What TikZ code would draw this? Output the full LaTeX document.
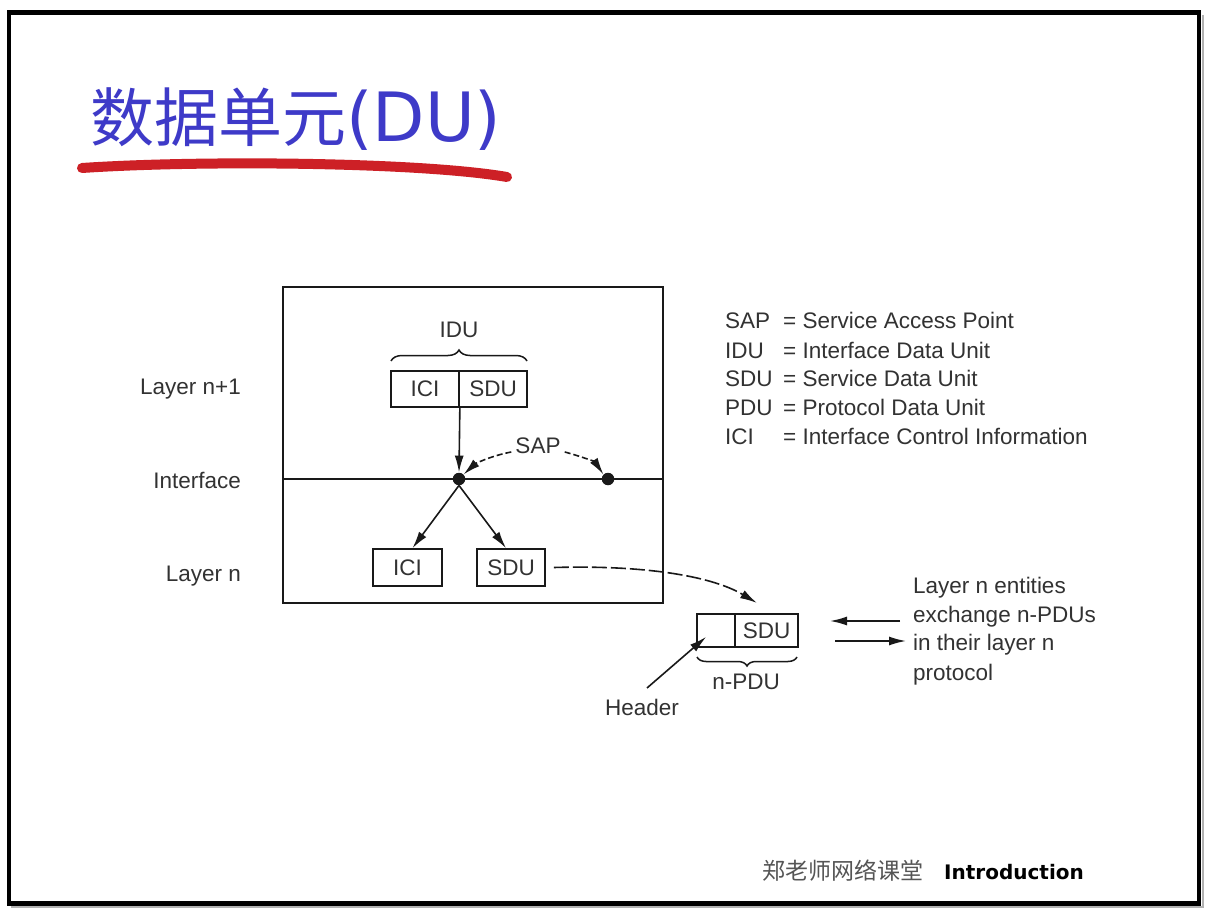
\documentclass[tikz,border=0pt]{standalone}
\usepackage{fontspec}
\setmainfont{Liberation Sans}
\newfontfamily\cjkfont{Noto Sans CJK SC}
\newfontfamily\djfont{DejaVu Sans}
\usetikzlibrary{arrows.meta,decorations.pathreplacing,calc}
\definecolor{titleblue}{RGB}{62,58,200}
\definecolor{brushred}{RGB}{205,32,38}
\definecolor{ink}{RGB}{25,25,25}
\definecolor{txt}{RGB}{50,50,50}
\definecolor{foot}{RGB}{85,85,85}
\begin{document}
\begin{tikzpicture}[x=1pt,y=-1pt,
  lbl/.style={font=\fontsize{22.5}{27}\selectfont, text=txt, inner sep=0pt},
  cell/.style={draw=ink, line width=1.7pt, minimum height=36pt, inner sep=0pt,
    font=\fontsize{22.5}{27}\selectfont, text=txt},
  arr/.style={-{Latex[length=17pt,width=9pt]}, draw=ink, line width=1.6pt},
  dasharr/.style={arr, dash pattern=on 6pt off 3pt},
  longdasharr/.style={arr, dash pattern=on 15pt off 4pt},
  sapdot/.style={circle, fill=ink, inner sep=0pt, minimum size=12.5pt},
  bracepath/.style={draw=ink, line width=1.5pt, decorate, decoration={brace, amplitude=11pt}}
]
\fill[white] (0,0) rectangle (1211,920);
\useasboundingbox (0,0) rectangle (1211,920);

% outer frame
\draw[gray!60, line width=2pt] (1202.5,15) -- (1202.5,907) -- (11,907);
\draw[black, line width=4.5pt] (9,12.5) rectangle (1199,903.5);

% title
\node[anchor=base west, inner sep=0pt, text=titleblue] (title) at (90,142)
  {\fontsize{64}{70}\selectfont\cjkfont 数据单元\fontsize{68}{74}\selectfont\djfont (DU)};
\draw[brushred, line width=10pt, line cap=round] (82,168) .. controls (200,160) and (420,162) .. (507,177);

% layer box
\node[draw=ink, line width=1.7pt, minimum width=380pt, minimum height=316pt, inner sep=0pt] (layerbox) at (473,445) {};
\node[sapdot] (sap1) at (459,479) {};
\node[sapdot] (sap2) at (608,479) {};
\draw[ink, line width=1.7pt] (layerbox.west |- sap1) -- (layerbox.east |- sap1);

% IDU
\node[cell, minimum width=68pt] (icitop) at (425,389) {ICI};
\node[cell, minimum width=68pt] (sdutop) at (493,389) {SDU};
\draw[bracepath] (391,361) -- (527,361);
\node[lbl] (idu) at (459,330) {IDU};
\draw[arr] (icitop.south east) -- (sap1.north);

% SAP
\node[lbl] (sap) at (538,446) {SAP};
\draw[dasharr] ($(sap.west)+(-4,6)$) .. controls (490,456) and (475,464) .. (sap1.north east);
\draw[dasharr] ($(sap.east)+(4,6)$) .. controls (580,456) and (595,462) .. (sap2.north west);

% layer n
\node[cell, minimum width=69pt, minimum height=37pt] (icilow) at (407.5,567.5) {ICI};
\node[cell, minimum width=68pt, minimum height=37pt] (sdulow) at (511,567.5) {SDU};
\draw[arr] (sap1.south) -- ($(icilow.north)+(5,0)$);
\draw[arr] (sap1.south) -- ($(sdulow.north)+(-5,0)$);

% n-PDU
\node[draw=ink, line width=1.7pt, minimum width=38pt, minimum height=33pt, inner sep=0pt] (hdrcell) at (716,630.5) {};
\node[cell, minimum width=63pt, minimum height=33pt] (sdupdu) at (766.5,630.5) {SDU};
\coordinate (pdutip) at (757,603);
\draw[longdasharr] ($(sdulow.east)+(8,0)$) .. controls (640,565) and (710,575) .. (pdutip);
\draw[bracepath, decoration={amplitude=9pt}] (797,657) -- (697,657);
\node[lbl] (npdu) at (746,682) {n-PDU};
\node[lbl] (header) at (642,707) {Header};
\coordinate (hdrstart) at (647,688);
\draw[arr] (hdrstart) -- ($(hdrcell.south west)+(10,-11)$);

% exchange arrows
\coordinate (ex1a) at (900,621);
\coordinate (ex1b) at (830,621);
\coordinate (ex2a) at (835,641);
\coordinate (ex2b) at (906,641);
\draw[arr] (ex1a) -- (ex1b);
\draw[arr] (ex2a) -- (ex2b);
\node[lbl, anchor=base west] (ex1) at (913,593) {Layer n entities};
\node[lbl, anchor=base west] (ex2) at (913,622) {exchange n-PDUs};
\node[lbl, anchor=base west] (ex3) at (913,650) {in their layer n};
\node[lbl, anchor=base west] (ex4) at (913,680) {protocol};

% left labels
\node[lbl, anchor=base east] (lnp1) at (241,394) {Layer n+1};
\node[lbl, anchor=base east] (lif) at (241,488) {Interface};
\node[lbl, anchor=base east] (ln) at (241,581) {Layer n};

% legend
\node[lbl, anchor=base west] (ka) at (725,329) {SAP};
\node[lbl, anchor=base west] (kb) at (725,358) {IDU};
\node[lbl, anchor=base west] (kc) at (725,386) {SDU};
\node[lbl, anchor=base west] (kd) at (725,415) {PDU};
\node[lbl, anchor=base west] (ke) at (725,444) {ICI};
\node[lbl, anchor=base west] (va) at (783,329) {= Service Access Point};
\node[lbl, anchor=base west] (vb) at (783,358) {= Interface Data Unit};
\node[lbl, anchor=base west] (vc) at (783,386) {= Service Data Unit};
\node[lbl, anchor=base west] (vd) at (783,415) {= Protocol Data Unit};
\node[lbl, anchor=base west] (ve) at (783,444) {= Interface Control Information};

% footer
\node[anchor=base west, inner sep=0pt, text=foot] (footcn) at (762,879)
  {\fontsize{23}{26}\selectfont\cjkfont 郑老师网络课堂};
\node[anchor=base west, inner sep=0pt, text=black] (footen) at (944,879)
  {\fontsize{20}{24}\selectfont\djfont\bfseries Introduction};
\end{tikzpicture}
\end{document}
